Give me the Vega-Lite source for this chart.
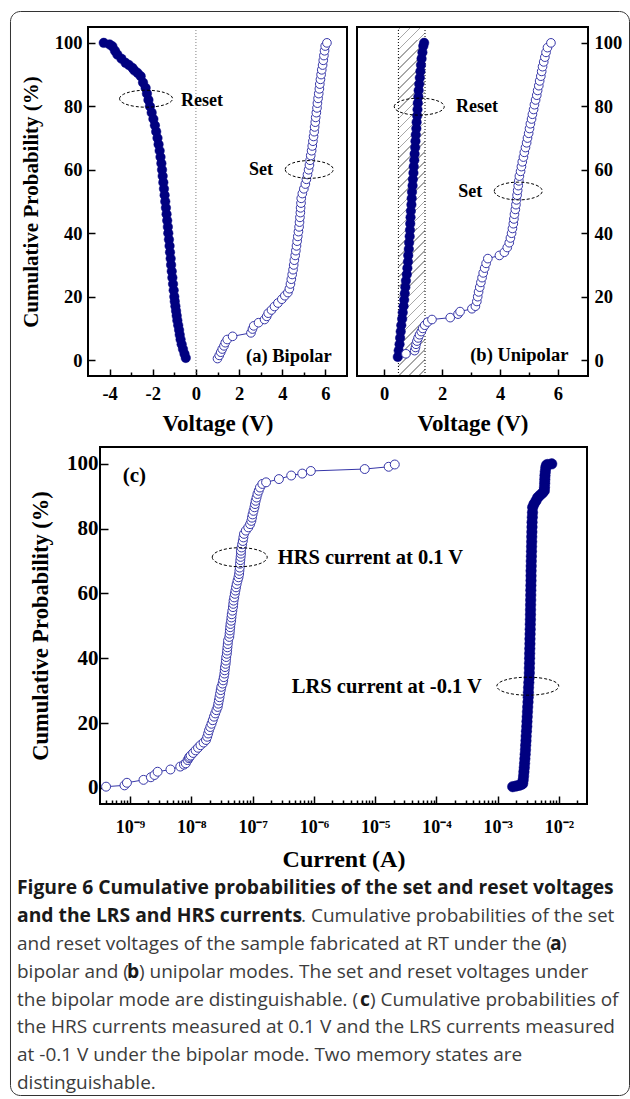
{
  "$schema": "https://vega.github.io/schema/vega-lite/v6.json",
  "background": "white",
  "padding": {"left": 9, "top": 11, "right": 0, "bottom": 0},
  "bounds": "flush",
  "spacing": 71,
  "config": {
    "view": {"stroke": null},
    "axis": {"domain": false, "grid": false, "labelFont": "Liberation Serif", "labelFontWeight": "bold", "labelColor": "black", "titleFont": "Liberation Serif", "titleFontWeight": "bold", "titleColor": "black", "tickColor": "black", "tickWidth": 1.5, "labelOverlap": false, "labelFlush": false, "labelBound": false},
    "text": {"font": "Liberation Serif"}
  },
  "datasets": {
    "a": [
      {"s":"Reset","p":0.7,"v":-0.47},{"s":"Reset","p":2,"v":-0.53},{"s":"Reset","p":3.5,"v":-0.6},{"s":"Reset","p":5,"v":-0.66},{"s":"Reset","p":6.5,"v":-0.71},{"s":"Reset","p":8,"v":-0.75},{"s":"Reset","p":9.5,"v":-0.78},{"s":"Reset","p":11,"v":-0.82},{"s":"Reset","p":12.5,"v":-0.86},{"s":"Reset","p":14,"v":-0.89},{"s":"Reset","p":15.5,"v":-0.92},{"s":"Reset","p":17,"v":-0.95},{"s":"Reset","p":18.5,"v":-0.98},{"s":"Reset","p":20,"v":-1.0},{"s":"Reset","p":22,"v":-1.03},{"s":"Reset","p":24,"v":-1.06},{"s":"Reset","p":26,"v":-1.09},{"s":"Reset","p":28,"v":-1.12},{"s":"Reset","p":30,"v":-1.15},{"s":"Reset","p":32,"v":-1.17},{"s":"Reset","p":34,"v":-1.2},{"s":"Reset","p":36,"v":-1.22},{"s":"Reset","p":38,"v":-1.25},{"s":"Reset","p":40,"v":-1.28},{"s":"Reset","p":42,"v":-1.3},{"s":"Reset","p":44,"v":-1.33},{"s":"Reset","p":46,"v":-1.36},{"s":"Reset","p":48,"v":-1.39},{"s":"Reset","p":50,"v":-1.42},{"s":"Reset","p":52,"v":-1.45},{"s":"Reset","p":54,"v":-1.48},{"s":"Reset","p":56,"v":-1.51},{"s":"Reset","p":58,"v":-1.54},{"s":"Reset","p":60,"v":-1.57},{"s":"Reset","p":62,"v":-1.6},{"s":"Reset","p":64,"v":-1.64},{"s":"Reset","p":66,"v":-1.68},{"s":"Reset","p":68,"v":-1.73},{"s":"Reset","p":70,"v":-1.78},{"s":"Reset","p":72,"v":-1.84},{"s":"Reset","p":74,"v":-1.9},{"s":"Reset","p":76,"v":-1.97},{"s":"Reset","p":78,"v":-2.05},{"s":"Reset","p":80,"v":-2.13},{"s":"Reset","p":82,"v":-2.2},{"s":"Reset","p":84,"v":-2.27},{"s":"Reset","p":85.8,"v":-2.33},{"s":"Reset","p":87.5,"v":-2.45},{"s":"Reset","p":89.5,"v":-2.56},{"s":"Reset","p":90.5,"v":-2.7},{"s":"Reset","p":91.3,"v":-2.85},{"s":"Reset","p":92.1,"v":-2.94},{"s":"Reset","p":93,"v":-3.1},{"s":"Reset","p":93.7,"v":-3.26},{"s":"Reset","p":95,"v":-3.45},{"s":"Reset","p":96.3,"v":-3.64},{"s":"Reset","p":97.5,"v":-3.75},{"s":"Reset","p":98.9,"v":-3.87},{"s":"Reset","p":99.5,"v":-4.0},{"s":"Reset","p":100,"v":-4.27},
      {"s":"Set","p":0.5,"v":1.0},{"s":"Set","p":1.5,"v":1.08},{"s":"Set","p":2.5,"v":1.15},{"s":"Set","p":3.5,"v":1.22},{"s":"Set","p":4.5,"v":1.3},{"s":"Set","p":5.5,"v":1.36},{"s":"Set","p":6.5,"v":1.45},{"s":"Set","p":7.5,"v":1.7},{"s":"Set","p":8.6,"v":2.55},{"s":"Set","p":9.8,"v":2.62},{"s":"Set","p":10.8,"v":2.68},{"s":"Set","p":11.8,"v":2.9},{"s":"Set","p":12.8,"v":3.18},{"s":"Set","p":13.8,"v":3.28},{"s":"Set","p":14.8,"v":3.35},{"s":"Set","p":15.8,"v":3.5},{"s":"Set","p":16.9,"v":3.64},{"s":"Set","p":18,"v":3.8},{"s":"Set","p":19.2,"v":3.98},{"s":"Set","p":20.3,"v":4.12},{"s":"Set","p":21.3,"v":4.26},{"s":"Set","p":22.5,"v":4.33},{"s":"Set","p":24,"v":4.38},{"s":"Set","p":25.5,"v":4.42},{"s":"Set","p":27,"v":4.46},{"s":"Set","p":28.5,"v":4.5},{"s":"Set","p":30,"v":4.53},{"s":"Set","p":31.5,"v":4.56},{"s":"Set","p":33,"v":4.6},{"s":"Set","p":34.5,"v":4.63},{"s":"Set","p":36,"v":4.66},{"s":"Set","p":37.5,"v":4.69},{"s":"Set","p":39,"v":4.72},{"s":"Set","p":40.5,"v":4.75},{"s":"Set","p":42,"v":4.78},{"s":"Set","p":43.5,"v":4.8},{"s":"Set","p":45,"v":4.82},{"s":"Set","p":46.5,"v":4.84},{"s":"Set","p":48,"v":4.85},{"s":"Set","p":49.5,"v":4.87},{"s":"Set","p":51,"v":4.88},{"s":"Set","p":52.5,"v":4.93},{"s":"Set","p":54,"v":5.0},{"s":"Set","p":55.5,"v":5.07},{"s":"Set","p":57,"v":5.12},{"s":"Set","p":58.5,"v":5.17},{"s":"Set","p":60,"v":5.22},{"s":"Set","p":61.5,"v":5.26},{"s":"Set","p":63,"v":5.29},{"s":"Set","p":64.5,"v":5.32},{"s":"Set","p":66,"v":5.36},{"s":"Set","p":67.5,"v":5.39},{"s":"Set","p":69,"v":5.42},{"s":"Set","p":70.5,"v":5.45},{"s":"Set","p":72,"v":5.48},{"s":"Set","p":73.5,"v":5.5},{"s":"Set","p":75,"v":5.53},{"s":"Set","p":76.5,"v":5.55},{"s":"Set","p":78,"v":5.58},{"s":"Set","p":79.5,"v":5.61},{"s":"Set","p":81,"v":5.63},{"s":"Set","p":82.5,"v":5.66},{"s":"Set","p":84,"v":5.69},{"s":"Set","p":85.5,"v":5.72},{"s":"Set","p":87,"v":5.74},{"s":"Set","p":88.5,"v":5.77},{"s":"Set","p":90,"v":5.8},{"s":"Set","p":91.5,"v":5.83},{"s":"Set","p":93,"v":5.87},{"s":"Set","p":94.5,"v":5.9},{"s":"Set","p":96,"v":5.93},{"s":"Set","p":97.5,"v":5.96},{"s":"Set","p":99,"v":5.99},{"s":"Set","p":100,"v":6.07}
    ],
    "b": [
      {"s":"Reset","p":1,"v":0.47},{"s":"Reset","p":3,"v":0.5},{"s":"Reset","p":5,"v":0.53},{"s":"Reset","p":7,"v":0.55},{"s":"Reset","p":9,"v":0.57},{"s":"Reset","p":11,"v":0.59},{"s":"Reset","p":13,"v":0.62},{"s":"Reset","p":15,"v":0.64},{"s":"Reset","p":17,"v":0.67},{"s":"Reset","p":19,"v":0.69},{"s":"Reset","p":21,"v":0.71},{"s":"Reset","p":23,"v":0.73},{"s":"Reset","p":25,"v":0.75},{"s":"Reset","p":27,"v":0.78},{"s":"Reset","p":29,"v":0.8},{"s":"Reset","p":31,"v":0.82},{"s":"Reset","p":33,"v":0.83},{"s":"Reset","p":35,"v":0.85},{"s":"Reset","p":37,"v":0.86},{"s":"Reset","p":39,"v":0.88},{"s":"Reset","p":41,"v":0.89},{"s":"Reset","p":43,"v":0.9},{"s":"Reset","p":45,"v":0.91},{"s":"Reset","p":47,"v":0.92},{"s":"Reset","p":49,"v":0.94},{"s":"Reset","p":51,"v":0.95},{"s":"Reset","p":53,"v":0.96},{"s":"Reset","p":55,"v":0.98},{"s":"Reset","p":57,"v":0.99},{"s":"Reset","p":59,"v":1.01},{"s":"Reset","p":61,"v":1.02},{"s":"Reset","p":63,"v":1.04},{"s":"Reset","p":65,"v":1.05},{"s":"Reset","p":67,"v":1.07},{"s":"Reset","p":69,"v":1.08},{"s":"Reset","p":71,"v":1.09},{"s":"Reset","p":73,"v":1.11},{"s":"Reset","p":75,"v":1.12},{"s":"Reset","p":77,"v":1.14},{"s":"Reset","p":79,"v":1.15},{"s":"Reset","p":81,"v":1.16},{"s":"Reset","p":83,"v":1.18},{"s":"Reset","p":85,"v":1.19},{"s":"Reset","p":87,"v":1.21},{"s":"Reset","p":89,"v":1.23},{"s":"Reset","p":91,"v":1.25},{"s":"Reset","p":93,"v":1.27},{"s":"Reset","p":95,"v":1.29},{"s":"Reset","p":97,"v":1.32},{"s":"Reset","p":99,"v":1.35},{"s":"Reset","p":100,"v":1.38},
      {"s":"Set","p":2,"v":0.75},{"s":"Set","p":3,"v":1.05},{"s":"Set","p":4,"v":1.08},{"s":"Set","p":5,"v":1.1},{"s":"Set","p":6,"v":1.13},{"s":"Set","p":7,"v":1.17},{"s":"Set","p":8,"v":1.22},{"s":"Set","p":9,"v":1.28},{"s":"Set","p":10,"v":1.33},{"s":"Set","p":11,"v":1.4},{"s":"Set","p":12,"v":1.5},{"s":"Set","p":12.8,"v":1.65},{"s":"Set","p":13.4,"v":2.28},{"s":"Set","p":14.5,"v":2.55},{"s":"Set","p":15.3,"v":2.62},{"s":"Set","p":16.2,"v":3.03},{"s":"Set","p":17,"v":3.15},{"s":"Set","p":18.5,"v":3.2},{"s":"Set","p":20,"v":3.23},{"s":"Set","p":21.5,"v":3.26},{"s":"Set","p":23,"v":3.3},{"s":"Set","p":24.5,"v":3.34},{"s":"Set","p":26,"v":3.38},{"s":"Set","p":27.5,"v":3.42},{"s":"Set","p":29,"v":3.47},{"s":"Set","p":30.5,"v":3.52},{"s":"Set","p":32,"v":3.58},{"s":"Set","p":33,"v":3.98},{"s":"Set","p":34,"v":4.15},{"s":"Set","p":35.5,"v":4.25},{"s":"Set","p":37,"v":4.32},{"s":"Set","p":38.5,"v":4.36},{"s":"Set","p":40,"v":4.4},{"s":"Set","p":41.5,"v":4.43},{"s":"Set","p":43,"v":4.46},{"s":"Set","p":44.5,"v":4.48},{"s":"Set","p":46,"v":4.5},{"s":"Set","p":47.5,"v":4.53},{"s":"Set","p":49,"v":4.55},{"s":"Set","p":50.5,"v":4.57},{"s":"Set","p":52,"v":4.59},{"s":"Set","p":53.5,"v":4.61},{"s":"Set","p":55,"v":4.63},{"s":"Set","p":56.5,"v":4.65},{"s":"Set","p":58,"v":4.67},{"s":"Set","p":59.5,"v":4.71},{"s":"Set","p":61,"v":4.74},{"s":"Set","p":62.5,"v":4.77},{"s":"Set","p":64,"v":4.81},{"s":"Set","p":65.5,"v":4.84},{"s":"Set","p":67,"v":4.88},{"s":"Set","p":68.5,"v":4.92},{"s":"Set","p":70,"v":4.95},{"s":"Set","p":71.5,"v":4.99},{"s":"Set","p":73,"v":5.02},{"s":"Set","p":74.5,"v":5.05},{"s":"Set","p":76,"v":5.09},{"s":"Set","p":77.5,"v":5.12},{"s":"Set","p":79,"v":5.16},{"s":"Set","p":80.5,"v":5.19},{"s":"Set","p":82,"v":5.23},{"s":"Set","p":83.5,"v":5.27},{"s":"Set","p":85,"v":5.3},{"s":"Set","p":86.5,"v":5.34},{"s":"Set","p":88,"v":5.37},{"s":"Set","p":89.5,"v":5.41},{"s":"Set","p":91,"v":5.44},{"s":"Set","p":92.5,"v":5.47},{"s":"Set","p":94,"v":5.51},{"s":"Set","p":95.5,"v":5.55},{"s":"Set","p":97,"v":5.59},{"s":"Set","p":98.5,"v":5.64},{"s":"Set","p":100,"v":5.76}
    ],
    "c": [
      {"s":"HRS","p":0.4,"i":4.07e-10},{"s":"HRS","p":0.8,"i":8.13e-10},{"s":"HRS","p":1.6,"i":8.91e-10},{"s":"HRS","p":2.5,"i":1.66e-9},{"s":"HRS","p":3.3,"i":2.19e-9},{"s":"HRS","p":4,"i":2.51e-9},{"s":"HRS","p":5,"i":2.82e-9},{"s":"HRS","p":5.7,"i":4.57e-9},{"s":"HRS","p":6.6,"i":6.61e-9},{"s":"HRS","p":7.2,"i":7.59e-9},{"s":"HRS","p":7.6,"i":8.13e-9},{"s":"HRS","p":8.6,"i":8.71e-9},{"s":"HRS","p":9.2,"i":9.12e-9},{"s":"HRS","p":9.6,"i":9.33e-9},{"s":"HRS","p":10,"i":9.77e-9},{"s":"HRS","p":10.8,"i":1.072e-8},{"s":"HRS","p":11.6,"i":1.175e-8},{"s":"HRS","p":12.4,"i":1.288e-8},{"s":"HRS","p":13.2,"i":1.413e-8},{"s":"HRS","p":14,"i":1.585e-8},{"s":"HRS","p":14.8,"i":1.738e-8},{"s":"HRS","p":15.8,"i":1.82e-8},{"s":"HRS","p":16.8,"i":1.884e-8},{"s":"HRS","p":17.8,"i":1.95e-8},{"s":"HRS","p":18.8,"i":2.042e-8},{"s":"HRS","p":19.8,"i":2.138e-8},{"s":"HRS","p":20.9,"i":2.239e-8},{"s":"HRS","p":22,"i":2.344e-8},{"s":"HRS","p":23,"i":2.455e-8},{"s":"HRS","p":24,"i":2.57e-8},{"s":"HRS","p":25,"i":2.692e-8},{"s":"HRS","p":26,"i":2.754e-8},{"s":"HRS","p":27,"i":2.818e-8},{"s":"HRS","p":28,"i":2.884e-8},{"s":"HRS","p":29.1,"i":2.951e-8},{"s":"HRS","p":30.2,"i":3.02e-8},{"s":"HRS","p":31.2,"i":3.09e-8},{"s":"HRS","p":32.2,"i":3.236e-8},{"s":"HRS","p":33.2,"i":3.311e-8},{"s":"HRS","p":34.2,"i":3.388e-8},{"s":"HRS","p":35.3,"i":3.467e-8},{"s":"HRS","p":36.3,"i":3.508e-8},{"s":"HRS","p":37.3,"i":3.548e-8},{"s":"HRS","p":38.3,"i":3.631e-8},{"s":"HRS","p":39.3,"i":3.673e-8},{"s":"HRS","p":40.4,"i":3.715e-8},{"s":"HRS","p":41.4,"i":3.802e-8},{"s":"HRS","p":42.4,"i":3.846e-8},{"s":"HRS","p":43.4,"i":3.89e-8},{"s":"HRS","p":44.4,"i":3.936e-8},{"s":"HRS","p":45.5,"i":3.981e-8},{"s":"HRS","p":46.6,"i":4.169e-8},{"s":"HRS","p":47.6,"i":4.217e-8},{"s":"HRS","p":48.6,"i":4.266e-8},{"s":"HRS","p":49.6,"i":4.315e-8},{"s":"HRS","p":50.6,"i":4.365e-8},{"s":"HRS","p":51.6,"i":4.467e-8},{"s":"HRS","p":52.6,"i":4.519e-8},{"s":"HRS","p":53.6,"i":4.571e-8},{"s":"HRS","p":54.7,"i":4.677e-8},{"s":"HRS","p":55.8,"i":4.786e-8},{"s":"HRS","p":56.8,"i":4.842e-8},{"s":"HRS","p":57.8,"i":4.898e-8},{"s":"HRS","p":58.8,"i":5.012e-8},{"s":"HRS","p":59.9,"i":5.129e-8},{"s":"HRS","p":60.9,"i":5.248e-8},{"s":"HRS","p":61.9,"i":5.37e-8},{"s":"HRS","p":62.9,"i":5.495e-8},{"s":"HRS","p":64,"i":5.689e-8},{"s":"HRS","p":65,"i":5.888e-8},{"s":"HRS","p":66,"i":6.026e-8},{"s":"HRS","p":67,"i":6.095e-8},{"s":"HRS","p":68,"i":6.166e-8},{"s":"HRS","p":69.2,"i":6.237e-8},{"s":"HRS","p":70.3,"i":6.31e-8},{"s":"HRS","p":71.3,"i":6.383e-8},{"s":"HRS","p":72.3,"i":6.457e-8},{"s":"HRS","p":73.2,"i":6.457e-8},{"s":"HRS","p":74.2,"i":6.607e-8},{"s":"HRS","p":75.2,"i":6.761e-8},{"s":"HRS","p":76.2,"i":6.918e-8},{"s":"HRS","p":77.3,"i":7.079e-8},{"s":"HRS","p":78.4,"i":7.244e-8},{"s":"HRS","p":79.4,"i":7.762e-8},{"s":"HRS","p":80.4,"i":8.511e-8},{"s":"HRS","p":81.4,"i":9.12e-8},{"s":"HRS","p":82.4,"i":9.55e-8},{"s":"HRS","p":83.4,"i":9.772e-8},{"s":"HRS","p":84.4,"i":1.0e-7},{"s":"HRS","p":85.5,"i":1.035e-7},{"s":"HRS","p":86.6,"i":1.072e-7},{"s":"HRS","p":87.6,"i":1.096e-7},{"s":"HRS","p":88.6,"i":1.122e-7},{"s":"HRS","p":89.6,"i":1.161e-7},{"s":"HRS","p":90.7,"i":1.202e-7},{"s":"HRS","p":91.7,"i":1.259e-7},{"s":"HRS","p":92.7,"i":1.318e-7},{"s":"HRS","p":93.8,"i":1.445e-7},{"s":"HRS","p":94.3,"i":1.66e-7},{"s":"HRS","p":95.3,"i":2.69e-7},{"s":"HRS","p":96.4,"i":4.27e-7},{"s":"HRS","p":97,"i":6.46e-7},{"s":"HRS","p":97.8,"i":8.91e-7},{"s":"HRS","p":98.4,"i":6.76e-6},{"s":"HRS","p":99.1,"i":1.66e-5},{"s":"HRS","p":99.8,"i":2.09e-5},
      {"s":"LRS","p":0.4,"i":1.754e-3},{"s":"LRS","p":0.6,"i":1.986e-3},{"s":"LRS","p":0.8,"i":2.223e-3},{"s":"LRS","p":1.1,"i":2.443e-3},{"s":"LRS","p":1.4,"i":2.553e-3},{"s":"LRS","p":2.5,"i":2.6e-3},{"s":"LRS","p":3.7,"i":2.642e-3},{"s":"LRS","p":5,"i":2.673e-3},{"s":"LRS","p":6.3,"i":2.712e-3},{"s":"LRS","p":7.6,"i":2.742e-3},{"s":"LRS","p":9,"i":2.773e-3},{"s":"LRS","p":10.4,"i":2.805e-3},{"s":"LRS","p":11.8,"i":2.837e-3},{"s":"LRS","p":13.2,"i":2.857e-3},{"s":"LRS","p":14.6,"i":2.89e-3},{"s":"LRS","p":16,"i":2.91e-3},{"s":"LRS","p":17.5,"i":2.943e-3},{"s":"LRS","p":19,"i":2.978e-3},{"s":"LRS","p":20.5,"i":2.999e-3},{"s":"LRS","p":22,"i":3.027e-3},{"s":"LRS","p":23.5,"i":3.055e-3},{"s":"LRS","p":25,"i":3.083e-3},{"s":"LRS","p":26.5,"i":3.119e-3},{"s":"LRS","p":28,"i":3.141e-3},{"s":"LRS","p":29.5,"i":3.162e-3},{"s":"LRS","p":31,"i":3.184e-3},{"s":"LRS","p":32.5,"i":3.214e-3},{"s":"LRS","p":34,"i":3.251e-3},{"s":"LRS","p":35.5,"i":3.273e-3},{"s":"LRS","p":37,"i":3.281e-3},{"s":"LRS","p":38.5,"i":3.296e-3},{"s":"LRS","p":40,"i":3.311e-3},{"s":"LRS","p":41.5,"i":3.319e-3},{"s":"LRS","p":43,"i":3.334e-3},{"s":"LRS","p":44.5,"i":3.35e-3},{"s":"LRS","p":46,"i":3.357e-3},{"s":"LRS","p":47.5,"i":3.373e-3},{"s":"LRS","p":49,"i":3.388e-3},{"s":"LRS","p":50.5,"i":3.396e-3},{"s":"LRS","p":52,"i":3.412e-3},{"s":"LRS","p":53.5,"i":3.42e-3},{"s":"LRS","p":55,"i":3.428e-3},{"s":"LRS","p":56.5,"i":3.436e-3},{"s":"LRS","p":58,"i":3.451e-3},{"s":"LRS","p":59.5,"i":3.459e-3},{"s":"LRS","p":61,"i":3.467e-3},{"s":"LRS","p":62.5,"i":3.475e-3},{"s":"LRS","p":64,"i":3.491e-3},{"s":"LRS","p":65.5,"i":3.495e-3},{"s":"LRS","p":67,"i":3.499e-3},{"s":"LRS","p":68.5,"i":3.516e-3},{"s":"LRS","p":70,"i":3.524e-3},{"s":"LRS","p":71.5,"i":3.54e-3},{"s":"LRS","p":73,"i":3.556e-3},{"s":"LRS","p":74.5,"i":3.565e-3},{"s":"LRS","p":76,"i":3.581e-3},{"s":"LRS","p":77.5,"i":3.589e-3},{"s":"LRS","p":79,"i":3.606e-3},{"s":"LRS","p":80.5,"i":3.622e-3},{"s":"LRS","p":82,"i":3.631e-3},{"s":"LRS","p":83.5,"i":3.664e-3},{"s":"LRS","p":85,"i":3.69e-3},{"s":"LRS","p":86.6,"i":3.715e-3},{"s":"LRS","p":87.6,"i":3.908e-3},{"s":"LRS","p":88.6,"i":4.207e-3},{"s":"LRS","p":89.6,"i":4.487e-3},{"s":"LRS","p":90.3,"i":4.887e-3},{"s":"LRS","p":91,"i":5.37e-3},{"s":"LRS","p":91.7,"i":5.754e-3},{"s":"LRS","p":92.8,"i":5.794e-3},{"s":"LRS","p":94,"i":5.834e-3},{"s":"LRS","p":95.2,"i":5.861e-3},{"s":"LRS","p":96.4,"i":5.902e-3},{"s":"LRS","p":97.6,"i":5.97e-3},{"s":"LRS","p":98.8,"i":6.081e-3},{"s":"LRS","p":99.6,"i":6.237e-3},{"s":"LRS","p":99.8,"i":6.5e-3},{"s":"LRS","p":100,"i":7.6e-3}
    ]
  },
  "vconcat": [
    {
      "width": 500, "height": 349,
      "resolve": {"scale": {"x": "independent", "y": "independent"}, "axis": {"x": "independent", "y": "independent"}},
      "layer": [
        {"layer": [
          {"data": {"values": [{}]}, "mark": {"type": "rect", "filled": false, "stroke": "#333333", "strokeWidth": 1, "cornerRadius": 10}, "encoding": {"x": {"datum": -8.591}, "x2": {"datum": 20.089}, "y": {"datum": 109.885}, "y2": {"datum": -231.78}}},
          {"data": {"values": [{}]}, "mark": {"type": "rule", "stroke": "#808080", "strokeWidth": 1, "strokeDash": [1, 2]}, "encoding": {"x": {"datum": 0}, "y": {"datum": -5}, "y2": {"datum": 105}}},
          {"data": {"name": "a"}, "transform": [{"filter": "datum.s === 'Set'"}], "mark": {"type": "line", "stroke": "#3636a8", "strokeWidth": 1},
           "encoding": {
             "x": {"field": "v", "type": "quantitative", "scale": {"domain": [-5, 7], "range": [0, 259], "nice": false, "zero": false},
               "axis": {"orient": "bottom", "title": "Voltage (V)", "values": [-4,-3,-2,-1,0,1,2,3,4,5,6], "labelExpr": "datum.value % 2 === 0 ? '' + datum.value : ''", "tickSize": {"condition": {"test": "datum.value % 2 === 0", "value": -7}, "value": -4}, "labelPadding": 15, "labelFontSize": 18.5, "titleFontSize": 23, "titlePadding": 7}},
             "y": {"field": "p", "type": "quantitative", "scale": {"domain": [-5, 105], "nice": false, "zero": false},
               "axis": {"orient": "left", "title": "Cumulative Probability (%)", "values": [0,10,20,30,40,50,60,70,80,90,100], "labelExpr": "datum.value % 20 === 0 ? '' + datum.value : ''", "tickSize": {"condition": {"test": "datum.value % 20 === 0", "value": -7}, "value": -4}, "labelPadding": 13, "labelFontSize": 18.5, "titleFontSize": 21, "titlePadding": 13}},
             "order": {"field": "p", "type": "quantitative"}}},
          {"data": {"name": "a"}, "transform": [{"filter": "datum.s === 'Reset'"}], "mark": {"type": "point", "shape": "circle", "filled": true, "fill": "#000080", "stroke": "#000080", "strokeWidth": 0.5, "size": 90, "opacity": 1},
           "encoding": {"x": {"field": "v", "type": "quantitative"}, "y": {"field": "p", "type": "quantitative"}}},
          {"data": {"name": "a"}, "transform": [{"filter": "datum.s === 'Set'"}], "mark": {"type": "point", "shape": "circle", "filled": true, "fill": "white", "stroke": "#3636a8", "strokeWidth": 1, "size": 75, "opacity": 1},
           "encoding": {"x": {"field": "v", "type": "quantitative"}, "y": {"field": "p", "type": "quantitative"}}},
          {"data": {"values": [{}]}, "mark": {"type": "point", "shape": "M-1,0A1,0.32,0,1,1,1,0A1,0.32,0,1,1,-1,0Z", "size": 2809, "filled": false, "stroke": "black", "strokeWidth": 1, "strokeDash": [3, 2], "opacity": 1}, "encoding": {"x": {"datum": -2.31}, "y": {"datum": 82.4}}},
          {"data": {"values": [{}]}, "mark": {"type": "point", "shape": "M-1,0A1,0.37,0,1,1,1,0A1,0.37,0,1,1,-1,0Z", "size": 2304, "filled": false, "stroke": "black", "strokeWidth": 1, "strokeDash": [3, 2], "opacity": 1}, "encoding": {"x": {"datum": 5.25}, "y": {"datum": 60.1}}},
          {"data": {"values": [{}]}, "mark": {"type": "text", "text": "Reset", "font": "Liberation Serif", "fontWeight": "bold", "fontSize": 18, "align": "left", "baseline": "middle", "color": "black"}, "encoding": {"x": {"datum": -0.69}, "y": {"datum": 81.7}}},
          {"data": {"values": [{}]}, "mark": {"type": "text", "text": "Set", "font": "Liberation Serif", "fontWeight": "bold", "fontSize": 18, "align": "left", "baseline": "middle", "color": "black"}, "encoding": {"x": {"datum": 2.46}, "y": {"datum": 59.9}}},
          {"data": {"values": [{}]}, "mark": {"type": "text", "text": "(a) Bipolar", "font": "Liberation Serif", "fontWeight": "bold", "fontSize": 18.5, "align": "left", "baseline": "middle", "color": "black"}, "encoding": {"x": {"datum": 2.32}, "y": {"datum": 1.3}}},
          {"data": {"values": [{}]}, "mark": {"type": "rect", "filled": false, "stroke": "black", "strokeWidth": 2}, "encoding": {"x": {"datum": -5}, "x2": {"datum": 7}, "y": {"datum": -5}, "y2": {"datum": 105}}}
        ]},
        {"layer": [
          {"data": {"values": [{}]}, "mark": {"type": "rect", "fill": {"gradient": "linear", "x1": 0, "y1": 0, "x2": 0.0823, "y2": 1.08, "stops": [
            {"offset": 0, "color": "#ffffff"},
            {"offset": 0.005, "color": "#ffffff"},{"offset": 0.005, "color": "#a8a8a8"},{"offset": 0.0092, "color": "#a8a8a8"},{"offset": 0.0092, "color": "#ffffff"},
            {"offset": 0.0311, "color": "#ffffff"},{"offset": 0.0311, "color": "#a8a8a8"},{"offset": 0.0353, "color": "#a8a8a8"},{"offset": 0.0353, "color": "#ffffff"},
            {"offset": 0.0572, "color": "#ffffff"},{"offset": 0.0572, "color": "#a8a8a8"},{"offset": 0.0614, "color": "#a8a8a8"},{"offset": 0.0614, "color": "#ffffff"},
            {"offset": 0.0833, "color": "#ffffff"},{"offset": 0.0833, "color": "#a8a8a8"},{"offset": 0.0875, "color": "#a8a8a8"},{"offset": 0.0875, "color": "#ffffff"},
            {"offset": 0.1094, "color": "#ffffff"},{"offset": 0.1094, "color": "#a8a8a8"},{"offset": 0.1136, "color": "#a8a8a8"},{"offset": 0.1136, "color": "#ffffff"},
            {"offset": 0.1355, "color": "#ffffff"},{"offset": 0.1355, "color": "#a8a8a8"},{"offset": 0.1397, "color": "#a8a8a8"},{"offset": 0.1397, "color": "#ffffff"},
            {"offset": 0.1616, "color": "#ffffff"},{"offset": 0.1616, "color": "#a8a8a8"},{"offset": 0.1658, "color": "#a8a8a8"},{"offset": 0.1658, "color": "#ffffff"},
            {"offset": 0.1877, "color": "#ffffff"},{"offset": 0.1877, "color": "#a8a8a8"},{"offset": 0.1919, "color": "#a8a8a8"},{"offset": 0.1919, "color": "#ffffff"},
            {"offset": 0.2138, "color": "#ffffff"},{"offset": 0.2138, "color": "#a8a8a8"},{"offset": 0.218, "color": "#a8a8a8"},{"offset": 0.218, "color": "#ffffff"},
            {"offset": 0.2399, "color": "#ffffff"},{"offset": 0.2399, "color": "#a8a8a8"},{"offset": 0.2441, "color": "#a8a8a8"},{"offset": 0.2441, "color": "#ffffff"},
            {"offset": 0.266, "color": "#ffffff"},{"offset": 0.266, "color": "#a8a8a8"},{"offset": 0.2702, "color": "#a8a8a8"},{"offset": 0.2702, "color": "#ffffff"},
            {"offset": 0.2921, "color": "#ffffff"},{"offset": 0.2921, "color": "#a8a8a8"},{"offset": 0.2963, "color": "#a8a8a8"},{"offset": 0.2963, "color": "#ffffff"},
            {"offset": 0.3182, "color": "#ffffff"},{"offset": 0.3182, "color": "#a8a8a8"},{"offset": 0.3224, "color": "#a8a8a8"},{"offset": 0.3224, "color": "#ffffff"},
            {"offset": 0.3443, "color": "#ffffff"},{"offset": 0.3443, "color": "#a8a8a8"},{"offset": 0.3485, "color": "#a8a8a8"},{"offset": 0.3485, "color": "#ffffff"},
            {"offset": 0.3704, "color": "#ffffff"},{"offset": 0.3704, "color": "#a8a8a8"},{"offset": 0.3746, "color": "#a8a8a8"},{"offset": 0.3746, "color": "#ffffff"},
            {"offset": 0.3965, "color": "#ffffff"},{"offset": 0.3965, "color": "#a8a8a8"},{"offset": 0.4007, "color": "#a8a8a8"},{"offset": 0.4007, "color": "#ffffff"},
            {"offset": 0.4226, "color": "#ffffff"},{"offset": 0.4226, "color": "#a8a8a8"},{"offset": 0.4268, "color": "#a8a8a8"},{"offset": 0.4268, "color": "#ffffff"},
            {"offset": 0.4487, "color": "#ffffff"},{"offset": 0.4487, "color": "#a8a8a8"},{"offset": 0.4529, "color": "#a8a8a8"},{"offset": 0.4529, "color": "#ffffff"},
            {"offset": 0.4748, "color": "#ffffff"},{"offset": 0.4748, "color": "#a8a8a8"},{"offset": 0.479, "color": "#a8a8a8"},{"offset": 0.479, "color": "#ffffff"},
            {"offset": 0.5009, "color": "#ffffff"},{"offset": 0.5009, "color": "#a8a8a8"},{"offset": 0.5051, "color": "#a8a8a8"},{"offset": 0.5051, "color": "#ffffff"},
            {"offset": 0.527, "color": "#ffffff"},{"offset": 0.527, "color": "#a8a8a8"},{"offset": 0.5312, "color": "#a8a8a8"},{"offset": 0.5312, "color": "#ffffff"},
            {"offset": 0.5531, "color": "#ffffff"},{"offset": 0.5531, "color": "#a8a8a8"},{"offset": 0.5573, "color": "#a8a8a8"},{"offset": 0.5573, "color": "#ffffff"},
            {"offset": 0.5792, "color": "#ffffff"},{"offset": 0.5792, "color": "#a8a8a8"},{"offset": 0.5834, "color": "#a8a8a8"},{"offset": 0.5834, "color": "#ffffff"},
            {"offset": 0.6053, "color": "#ffffff"},{"offset": 0.6053, "color": "#a8a8a8"},{"offset": 0.6095, "color": "#a8a8a8"},{"offset": 0.6095, "color": "#ffffff"},
            {"offset": 0.6314, "color": "#ffffff"},{"offset": 0.6314, "color": "#a8a8a8"},{"offset": 0.6356, "color": "#a8a8a8"},{"offset": 0.6356, "color": "#ffffff"},
            {"offset": 0.6575, "color": "#ffffff"},{"offset": 0.6575, "color": "#a8a8a8"},{"offset": 0.6617, "color": "#a8a8a8"},{"offset": 0.6617, "color": "#ffffff"},
            {"offset": 0.6836, "color": "#ffffff"},{"offset": 0.6836, "color": "#a8a8a8"},{"offset": 0.6878, "color": "#a8a8a8"},{"offset": 0.6878, "color": "#ffffff"},
            {"offset": 0.7097, "color": "#ffffff"},{"offset": 0.7097, "color": "#a8a8a8"},{"offset": 0.7139, "color": "#a8a8a8"},{"offset": 0.7139, "color": "#ffffff"},
            {"offset": 0.7358, "color": "#ffffff"},{"offset": 0.7358, "color": "#a8a8a8"},{"offset": 0.74, "color": "#a8a8a8"},{"offset": 0.74, "color": "#ffffff"},
            {"offset": 0.7619, "color": "#ffffff"},{"offset": 0.7619, "color": "#a8a8a8"},{"offset": 0.7661, "color": "#a8a8a8"},{"offset": 0.7661, "color": "#ffffff"},
            {"offset": 0.788, "color": "#ffffff"},{"offset": 0.788, "color": "#a8a8a8"},{"offset": 0.7922, "color": "#a8a8a8"},{"offset": 0.7922, "color": "#ffffff"},
            {"offset": 0.8141, "color": "#ffffff"},{"offset": 0.8141, "color": "#a8a8a8"},{"offset": 0.8183, "color": "#a8a8a8"},{"offset": 0.8183, "color": "#ffffff"},
            {"offset": 0.8402, "color": "#ffffff"},{"offset": 0.8402, "color": "#a8a8a8"},{"offset": 0.8444, "color": "#a8a8a8"},{"offset": 0.8444, "color": "#ffffff"},
            {"offset": 0.8663, "color": "#ffffff"},{"offset": 0.8663, "color": "#a8a8a8"},{"offset": 0.8705, "color": "#a8a8a8"},{"offset": 0.8705, "color": "#ffffff"},
            {"offset": 0.8924, "color": "#ffffff"},{"offset": 0.8924, "color": "#a8a8a8"},{"offset": 0.8966, "color": "#a8a8a8"},{"offset": 0.8966, "color": "#ffffff"},
            {"offset": 0.9185, "color": "#ffffff"},{"offset": 0.9185, "color": "#a8a8a8"},{"offset": 0.9227, "color": "#a8a8a8"},{"offset": 0.9227, "color": "#ffffff"},
            {"offset": 0.9446, "color": "#ffffff"},{"offset": 0.9446, "color": "#a8a8a8"},{"offset": 0.9488, "color": "#a8a8a8"},{"offset": 0.9488, "color": "#ffffff"},
            {"offset": 0.9707, "color": "#ffffff"},{"offset": 0.9707, "color": "#a8a8a8"},{"offset": 0.9749, "color": "#a8a8a8"},{"offset": 0.9749, "color": "#ffffff"},
            {"offset": 1, "color": "#ffffff"}
          ]}}, "encoding": {"x": {"datum": 0.49}, "x2": {"datum": 1.41}, "y": {"datum": 105}, "y2": {"datum": -5}}},
          {"data": {"values": [{}]}, "mark": {"type": "rule", "stroke": "black", "strokeWidth": 1, "strokeDash": [1, 2]}, "encoding": {"x": {"datum": 0.49}, "y": {"datum": -5}, "y2": {"datum": 105}}},
          {"data": {"values": [{}]}, "mark": {"type": "rule", "stroke": "black", "strokeWidth": 1, "strokeDash": [1, 2]}, "encoding": {"x": {"datum": 1.41}, "y": {"datum": -5}, "y2": {"datum": 105}}},
          {"data": {"name": "b"}, "transform": [{"filter": "datum.s === 'Set'"}], "mark": {"type": "line", "stroke": "#3636a8", "strokeWidth": 1},
           "encoding": {
             "x": {"field": "v", "type": "quantitative", "scale": {"domain": [-0.94, 7.04], "range": [269, 500], "nice": false, "zero": false},
               "axis": {"orient": "bottom", "title": "Voltage (V)", "values": [0,1,2,3,4,5,6], "labelExpr": "datum.value % 2 === 0 ? '' + datum.value : ''", "tickSize": {"condition": {"test": "datum.value % 2 === 0", "value": -7}, "value": -4}, "labelPadding": 15, "labelFontSize": 18.5, "titleFontSize": 23, "titlePadding": 7}},
             "y": {"field": "p", "type": "quantitative", "scale": {"domain": [-5, 105], "nice": false, "zero": false},
               "axis": {"orient": "right", "title": null, "values": [0,10,20,30,40,50,60,70,80,90,100], "labelExpr": "datum.value % 20 === 0 ? '' + datum.value : ''", "tickSize": {"condition": {"test": "datum.value % 20 === 0", "value": -7}, "value": -4}, "labelPadding": 13, "labelFontSize": 18.5}},
             "order": {"field": "p", "type": "quantitative"}}},
          {"data": {"name": "b"}, "transform": [{"filter": "datum.s === 'Reset'"}], "mark": {"type": "point", "shape": "circle", "filled": true, "fill": "#000080", "stroke": "#000080", "strokeWidth": 0.5, "size": 90, "opacity": 1},
           "encoding": {"x": {"field": "v", "type": "quantitative"}, "y": {"field": "p", "type": "quantitative"}}},
          {"data": {"name": "b"}, "transform": [{"filter": "datum.s === 'Set'"}], "mark": {"type": "point", "shape": "circle", "filled": true, "fill": "white", "stroke": "#3636a8", "strokeWidth": 1, "size": 75, "opacity": 1},
           "encoding": {"x": {"field": "v", "type": "quantitative"}, "y": {"field": "p", "type": "quantitative"}}},
          {"data": {"values": [{}]}, "mark": {"type": "point", "shape": "M-1,0A1,0.34,0,1,1,1,0A1,0.34,0,1,1,-1,0Z", "size": 2500, "filled": false, "stroke": "black", "strokeWidth": 1, "strokeDash": [3, 2], "opacity": 1}, "encoding": {"x": {"datum": 1.21}, "y": {"datum": 79.9}}},
          {"data": {"values": [{}]}, "mark": {"type": "point", "shape": "M-1,0A1,0.37,0,1,1,1,0A1,0.37,0,1,1,-1,0Z", "size": 2304, "filled": false, "stroke": "black", "strokeWidth": 1, "strokeDash": [3, 2], "opacity": 1}, "encoding": {"x": {"datum": 4.63}, "y": {"datum": 53.3}}},
          {"data": {"values": [{}]}, "mark": {"type": "text", "text": "Reset", "font": "Liberation Serif", "fontWeight": "bold", "fontSize": 18, "align": "left", "baseline": "middle", "color": "black"}, "encoding": {"x": {"datum": 2.48}, "y": {"datum": 79.9}}},
          {"data": {"values": [{}]}, "mark": {"type": "text", "text": "Set", "font": "Liberation Serif", "fontWeight": "bold", "fontSize": 18, "align": "left", "baseline": "middle", "color": "black"}, "encoding": {"x": {"datum": 2.56}, "y": {"datum": 53.1}}},
          {"data": {"values": [{}]}, "mark": {"type": "text", "text": "(b) Unipolar", "font": "Liberation Serif", "fontWeight": "bold", "fontSize": 18.5, "align": "left", "baseline": "middle", "color": "black"}, "encoding": {"x": {"datum": 2.97}, "y": {"datum": 1.6}}},
          {"data": {"values": [{}]}, "mark": {"type": "rect", "filled": false, "stroke": "black", "strokeWidth": 2}, "encoding": {"x": {"datum": -0.94}, "x2": {"datum": 7.04}, "y": {"datum": -5}, "y2": {"datum": 105}}}
        ]}
      ]
    },
    {
      "width": 500, "height": 357,
      "layer": [
        {"data": {"name": "c"}, "transform": [{"filter": "datum.s === 'HRS'"}], "mark": {"type": "line", "stroke": "#3636a8", "strokeWidth": 1},
         "encoding": {
           "x": {"field": "i", "type": "quantitative", "scale": {"type": "log", "domain": [3.24e-10, 2.86e-2], "range": [12, 499], "nice": false},
             "axis": {"title": "Current (A)", "values": [4e-10,5e-10,6e-10,7e-10,8e-10,9e-10,1e-9,2e-9,3e-9,4e-9,5e-9,6e-9,7e-9,8e-9,9e-9,1e-8,2e-8,3e-8,4e-8,5e-8,6e-8,7e-8,8e-8,9e-8,1e-7,2e-7,3e-7,4e-7,5e-7,6e-7,7e-7,8e-7,9e-7,1e-6,2e-6,3e-6,4e-6,5e-6,6e-6,7e-6,8e-6,9e-6,1e-5,2e-5,3e-5,4e-5,5e-5,6e-5,7e-5,8e-5,9e-5,1e-4,2e-4,3e-4,4e-4,5e-4,6e-4,7e-4,8e-4,9e-4,1e-3,2e-3,3e-3,4e-3,5e-3,6e-3,7e-3,8e-3,9e-3,1e-2,2e-2],
               "labelExpr": "abs(log(datum.value)/LN10 - round(log(datum.value)/LN10)) < 0.001 ? '10⁻' + substring('⁰¹²³⁴⁵⁶⁷⁸⁹', -round(log(datum.value)/LN10), -round(log(datum.value)/LN10) + 1) : ''",
               "tickSize": {"condition": {"test": "abs(log(datum.value)/LN10 - round(log(datum.value)/LN10)) < 0.001", "value": -8}, "value": -4},
               "labelPadding": 22, "labelFontSize": 18, "titleFontSize": 24, "titlePadding": 7}},
           "y": {"field": "p", "type": "quantitative", "scale": {"domain": [-4.95, 105.2], "nice": false, "zero": false},
             "axis": {"offset": -12, "title": "Cumulative Probability (%)", "values": [0,10,20,30,40,50,60,70,80,90,100], "labelExpr": "datum.value % 20 === 0 ? '' + datum.value : ''", "tickSize": {"condition": {"test": "datum.value % 20 === 0", "value": -8}, "value": -5}, "labelPadding": 10, "labelFontSize": 21, "titleFontSize": 22.5, "titlePadding": 14}},
           "order": {"field": "p", "type": "quantitative"}}},
        {"data": {"name": "c"}, "transform": [{"filter": "datum.s === 'LRS'"}], "mark": {"type": "line", "stroke": "#000080", "strokeWidth": 1},
         "encoding": {"x": {"field": "i", "type": "quantitative"}, "y": {"field": "p", "type": "quantitative"}, "order": {"field": "p", "type": "quantitative"}}},
        {"data": {"name": "c"}, "transform": [{"filter": "datum.s === 'LRS'"}], "mark": {"type": "point", "shape": "circle", "filled": true, "fill": "#000080", "stroke": "#000080", "strokeWidth": 0.5, "size": 110, "opacity": 1},
         "encoding": {"x": {"field": "i", "type": "quantitative"}, "y": {"field": "p", "type": "quantitative"}}},
        {"data": {"name": "c"}, "transform": [{"filter": "datum.s === 'HRS'"}], "mark": {"type": "point", "shape": "circle", "filled": true, "fill": "white", "stroke": "#3636a8", "strokeWidth": 1, "size": 80, "opacity": 1},
         "encoding": {"x": {"field": "i", "type": "quantitative"}, "y": {"field": "p", "type": "quantitative"}}},
        {"data": {"values": [{}]}, "mark": {"type": "point", "shape": "M-1,0A1,0.345,0,1,1,1,0A1,0.345,0,1,1,-1,0Z", "size": 3025, "filled": false, "stroke": "black", "strokeWidth": 1, "strokeDash": [3, 2], "opacity": 1}, "encoding": {"x": {"datum": 6.17e-8, "scale": {"type": "log"}}, "y": {"datum": 71.2}}},
        {"data": {"values": [{}]}, "mark": {"type": "point", "shape": "M-1,0A1,0.29,0,1,1,1,0A1,0.29,0,1,1,-1,0Z", "size": 3844, "filled": false, "stroke": "black", "strokeWidth": 1, "strokeDash": [3, 2], "opacity": 1}, "encoding": {"x": {"datum": 3.09e-3, "scale": {"type": "log"}}, "y": {"datum": 31.4}}},
        {"data": {"values": [{}]}, "mark": {"type": "text", "text": "(c)", "font": "Liberation Serif", "fontWeight": "bold", "fontSize": 21, "align": "left", "baseline": "middle", "color": "black"}, "encoding": {"x": {"datum": 7.59e-10, "scale": {"type": "log"}}, "y": {"datum": 96.3}}},
        {"data": {"values": [{}]}, "mark": {"type": "text", "text": "HRS current at 0.1 V", "font": "Liberation Serif", "fontWeight": "bold", "fontSize": 20.5, "align": "left", "baseline": "middle", "color": "black"}, "encoding": {"x": {"datum": 2.57e-7, "scale": {"type": "log"}}, "y": {"datum": 71}}},
        {"data": {"values": [{}]}, "mark": {"type": "text", "text": "LRS current at -0.1 V", "font": "Liberation Serif", "fontWeight": "bold", "fontSize": 20.5, "align": "left", "baseline": "middle", "color": "black"}, "encoding": {"x": {"datum": 4.37e-7, "scale": {"type": "log"}}, "y": {"datum": 31}}},
        {"data": {"values": [{}]}, "mark": {"type": "rect", "filled": false, "stroke": "black", "strokeWidth": 2}, "encoding": {"x": {"datum": 3.24e-10, "scale": {"type": "log"}}, "x2": {"datum": 2.86e-2}, "y": {"datum": -4.95}, "y2": {"datum": 105.2}}}
      ]
    },
    {
      "width": 500, "height": 212,
      "encoding": {
        "y": {"field": "line", "type": "quantitative", "scale": {"domain": [0.534, 8.133], "reverse": true, "nice": false, "zero": false}, "axis": null},
        "text": {"field": "text"}
      },
      "layer": [
        {"data": {"values": [{"line": 1, "text": "Figure 6 Cumulative probabilities of the set and reset voltages"}, {"line": 2, "text": "and the LRS and HRS currents"}]},
         "mark": {"type": "text", "font": "Open Sans", "fontWeight": "bold", "fontSize": 19.3, "align": "left", "baseline": "middle", "color": "#1a1a1a"},
         "encoding": {"x": {"datum": 16, "type": "quantitative", "scale": {"domain": [87, 587], "nice": false, "zero": false}, "axis": null}}},
        {"data": {"values": [{"line": 3, "text": "and reset voltages of the sample fabricated at RT under the ("}, {"line": 4, "text": "bipolar and ("}, {"line": 5, "text": "the bipolar mode are distinguishable. ("}, {"line": 6, "text": "the HRS currents measured at 0.1 V and the LRS currents measured"}, {"line": 7, "text": "at -0.1 V under the bipolar mode. Two memory states are"}, {"line": 8, "text": "distinguishable."}]},
         "mark": {"type": "text", "font": "Open Sans", "fontWeight": "normal", "fontSize": 19, "align": "left", "baseline": "middle", "color": "#3c3c3c"},
         "encoding": {"x": {"datum": 16, "type": "quantitative", "axis": null}}},
        {"data": {"values": [{"line": 2, "text": ". Cumulative probabilities of the set"}]},
         "mark": {"type": "text", "font": "Open Sans", "fontWeight": "normal", "fontSize": 19, "align": "left", "baseline": "middle", "color": "#3c3c3c"},
         "encoding": {"x": {"datum": 300, "type": "quantitative", "axis": null}}},
        {"data": {"values": [{"line": 3, "text": "a"}]},
         "mark": {"type": "text", "font": "Open Sans", "fontWeight": "bold", "fontSize": 19.3, "align": "left", "baseline": "middle", "color": "#1a1a1a"},
         "encoding": {"x": {"datum": 549, "type": "quantitative", "axis": null}}},
        {"data": {"values": [{"line": 3, "text": ")"}]},
         "mark": {"type": "text", "font": "Open Sans", "fontWeight": "normal", "fontSize": 19, "align": "left", "baseline": "middle", "color": "#3c3c3c"},
         "encoding": {"x": {"datum": 560, "type": "quantitative", "axis": null}}},
        {"data": {"values": [{"line": 4, "text": "b"}]},
         "mark": {"type": "text", "font": "Open Sans", "fontWeight": "bold", "fontSize": 19.3, "align": "left", "baseline": "middle", "color": "#1a1a1a"},
         "encoding": {"x": {"datum": 126, "type": "quantitative", "axis": null}}},
        {"data": {"values": [{"line": 4, "text": ") unipolar modes. The set and reset voltages under"}]},
         "mark": {"type": "text", "font": "Open Sans", "fontWeight": "normal", "fontSize": 19, "align": "left", "baseline": "middle", "color": "#3c3c3c"},
         "encoding": {"x": {"datum": 138, "type": "quantitative", "axis": null}}},
        {"data": {"values": [{"line": 5, "text": "c"}]},
         "mark": {"type": "text", "font": "Open Sans", "fontWeight": "bold", "fontSize": 19.3, "align": "left", "baseline": "middle", "color": "#1a1a1a"},
         "encoding": {"x": {"datum": 359, "type": "quantitative", "axis": null}}},
        {"data": {"values": [{"line": 5, "text": ") Cumulative probabilities of"}]},
         "mark": {"type": "text", "font": "Open Sans", "fontWeight": "normal", "fontSize": 19, "align": "left", "baseline": "middle", "color": "#3c3c3c"},
         "encoding": {"x": {"datum": 369, "type": "quantitative", "axis": null}}}
      ]
    }
  ]
}
